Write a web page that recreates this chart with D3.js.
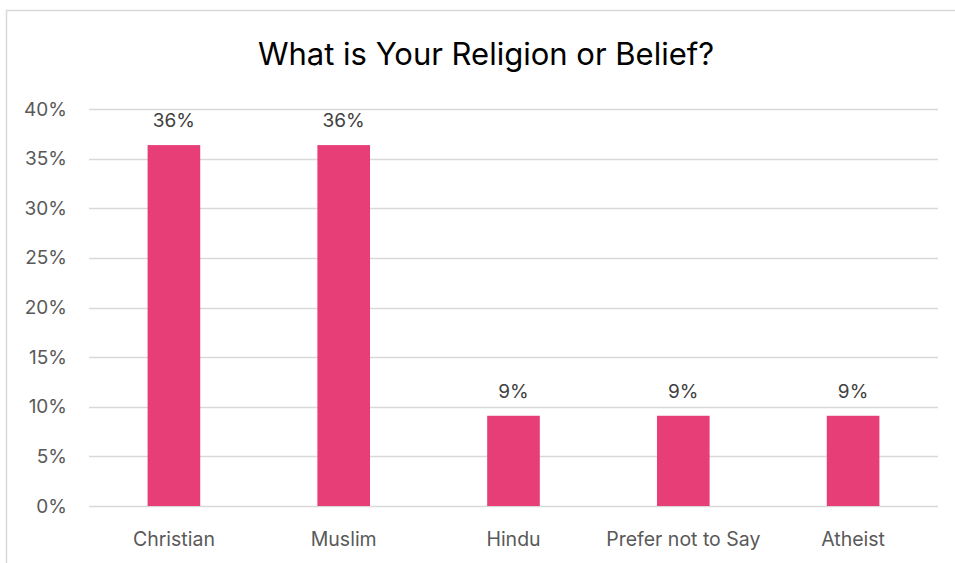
<!DOCTYPE html>
<html>
<head>
<meta charset="utf-8">
<script src="https://cdn.jsdelivr.net/npm/d3@7"></script>
<style>
  html, body { margin: 0; padding: 0; background: #fff; }
  svg { display: block; font-family: Inter, "Liberation Sans", sans-serif; }
</style>
</head>
<body>
<svg id="chart" width="955" height="563"></svg>
<script>
const categories = ["Christian", "Muslim", "Hindu", "Prefer not to Say", "Atheist"];
const shares = [4 / 11, 4 / 11, 1 / 11, 1 / 11, 1 / 11];
const yTicks = [0, 0.05, 0.10, 0.15, 0.20, 0.25, 0.30, 0.35, 0.40];
const title = "What is Your Religion or Belief?";

const FONT = "Inter, 'Liberation Sans', sans-serif";
const svg = d3.select("#chart");
const W = 955, H = 563;

// outer chart frame
svg.append("rect")
  .attr("x", 6.5).attr("y", 10.5)
  .attr("width", W + 10).attr("height", H + 10)
  .attr("fill", "#fff").attr("stroke", "#d9d9d9").attr("stroke-width", 1.5);

const plot = { left: 89, right: 938, top: 109, bottom: 506 };

const x = d3.scaleBand()
  .domain(categories)
  .range([plot.left, plot.right])
  .paddingInner(0.69).paddingOuter(0.345);

const y = d3.scaleLinear()
  .domain([0, 0.40])
  .range([plot.bottom, plot.top]);

// gridlines
svg.append("g")
  .selectAll("line")
  .data(yTicks)
  .join("line")
  .attr("x1", plot.left).attr("x2", plot.right)
  .attr("y1", d => Math.round(y(d)) + 0.5).attr("y2", d => Math.round(y(d)) + 0.5)
  .attr("stroke", "#d9d9d9").attr("stroke-width", 1.5);

// y axis labels
const yAxis = d3.axisLeft(y).tickValues(yTicks).tickFormat(d3.format(".0%")).tickSize(0).tickPadding(0);
const yg = svg.append("g").attr("transform", `translate(${67},0)`).call(yAxis);
yg.select(".domain").remove();
yg.selectAll("text")
  .attr("fill", "#595959").attr("font-size", 19)
  .attr("font-family", FONT);

// bars
svg.append("g")
  .selectAll("rect")
  .data(shares)
  .join("rect")
  .attr("x", (d, i) => x(categories[i]))
  .attr("width", x.bandwidth())
  .attr("y", d => y(d))
  .attr("height", d => y(0) - y(d))
  .attr("fill", "#e83e78");

// value labels
svg.append("g")
  .selectAll("text")
  .data(shares)
  .join("text")
  .attr("x", (d, i) => x(categories[i]) + x.bandwidth() / 2)
  .attr("y", d => y(d) - 18)
  .attr("text-anchor", "middle")
  .attr("fill", "#404040").attr("font-size", 19)
  .attr("font-family", FONT)
  .text(d => d3.format(".0%")(d));

// category axis labels
const xAxis = d3.axisBottom(x).tickSize(0).tickPadding(0);
const xg = svg.append("g").attr("transform", `translate(0,${plot.bottom + 25})`).call(xAxis);
xg.select(".domain").remove();
xg.selectAll("text")
  .attr("fill", "#595959").attr("font-size", 19.5)
  .attr("font-family", FONT)
  .attr("dy", "0.75em");

// title
svg.append("text")
  .attr("x", 486).attr("y", 65)
  .attr("text-anchor", "middle")
  .attr("fill", "#000").attr("font-size", 31)
  .attr("font-family", FONT)
  .text(title);
</script>
</body>
</html>
